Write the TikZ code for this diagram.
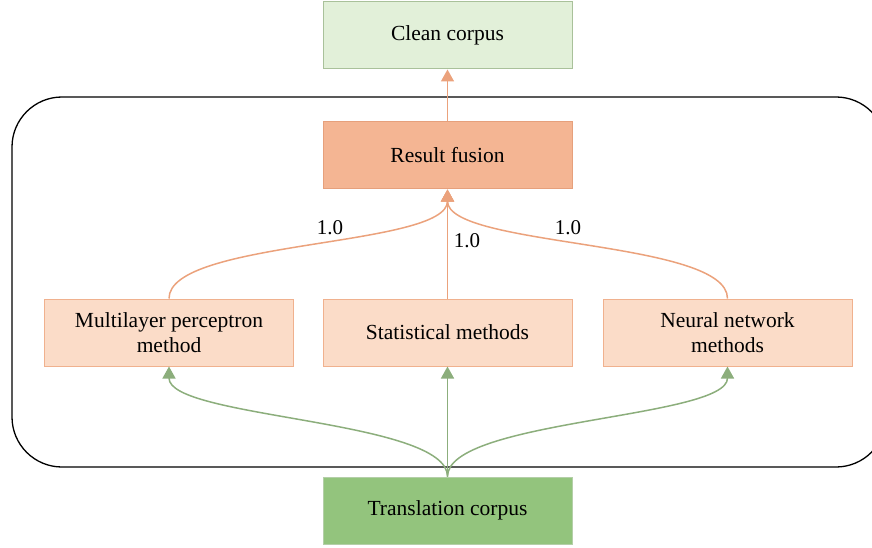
\documentclass[tikz,border=0pt]{standalone}
\usepackage{fontspec}
\setmainfont{Liberation Serif}
\usetikzlibrary{arrows.meta,calc}
\definecolor{orline}{HTML}{EBA27C}
\definecolor{grline}{HTML}{8CAE7C}
\definecolor{cleanfill}{HTML}{E2F0D9}
\definecolor{cleandraw}{HTML}{A9C19A}
\definecolor{fusionfill}{HTML}{F4B593}
\definecolor{fusiondraw}{HTML}{E6A07C}
\definecolor{methfill}{HTML}{FBDCC8}
\definecolor{methdraw}{HTML}{F0B18E}
\definecolor{transfill}{HTML}{93C47D}
\definecolor{transdraw}{HTML}{B4CFA8}
\tikzset{
  box/.style={draw, line width=1pt, minimum width=249pt, minimum height=67pt, align=center, inner sep=0pt, font=\fontsize{21.5}{25}\selectfont},
  orarrow/.style={draw=orline, line width=1.5pt, -{Triangle[length=12pt,width=13pt]}},
  grarrow/.style={draw=grline, line width=1.5pt, -{Triangle[length=12pt,width=13pt]}},
  weight/.style={font=\fontsize{21}{24}\selectfont, inner sep=0pt}
}
\begin{document}
\begin{tikzpicture}[x=1pt,y=-1pt]
\useasboundingbox (0,0) rectangle (872,548);
\begin{scope}
\clip (0,0) rectangle (872,548);
\draw[line width=1.3pt, rounded corners=50pt] (12,97) rectangle (886,467);
\end{scope}
\node[box, fill=cleanfill, draw=cleandraw] (clean) at (447.5,35.5) {Clean corpus};
\node[box, fill=fusionfill, draw=fusiondraw] (fusion) at (447.5,155.5) {Result fusion};
\node[box, fill=methfill, draw=methdraw] (mlp) at (169,332.5) {Multilayer perceptron\\method};
\node[box, fill=methfill, draw=methdraw] (stat) at (447.5,332.5) {Statistical methods};
\node[box, fill=methfill, draw=methdraw] (nn) at (727.5,332.5) {Neural network\\methods};
\node[box, fill=transfill, draw=transdraw] (trans) at (447.5,510.5) {Translation corpus};
\draw[orarrow] (fusion.north) -- (clean.south);
\draw[orarrow] (stat.north) -- (fusion.south);
\draw[orarrow] (mlp.north) .. controls ($(mlp.north)+(0,-59)$) and ($(fusion.south)+(0,58)$) .. (fusion.south);
\draw[orarrow] (nn.north) .. controls ($(nn.north)+(0,-59)$) and ($(fusion.south)+(0,58)$) .. (fusion.south);
\draw[grarrow] (trans.north) -- (stat.south);
\draw[grarrow] (trans.north) .. controls ($(trans.north)+(0,-57)$) and ($(mlp.south)+(0,52)$) .. (mlp.south);
\draw[grarrow] (trans.north) .. controls ($(trans.north)+(0,-57)$) and ($(nn.south)+(0,52)$) .. (nn.south);
\node[weight] (w1) at (330,228) {1.0};
\node[weight] (w2) at (467,241) {1.0};
\node[weight] (w3) at (568,228) {1.0};
\end{tikzpicture}
\end{document}
